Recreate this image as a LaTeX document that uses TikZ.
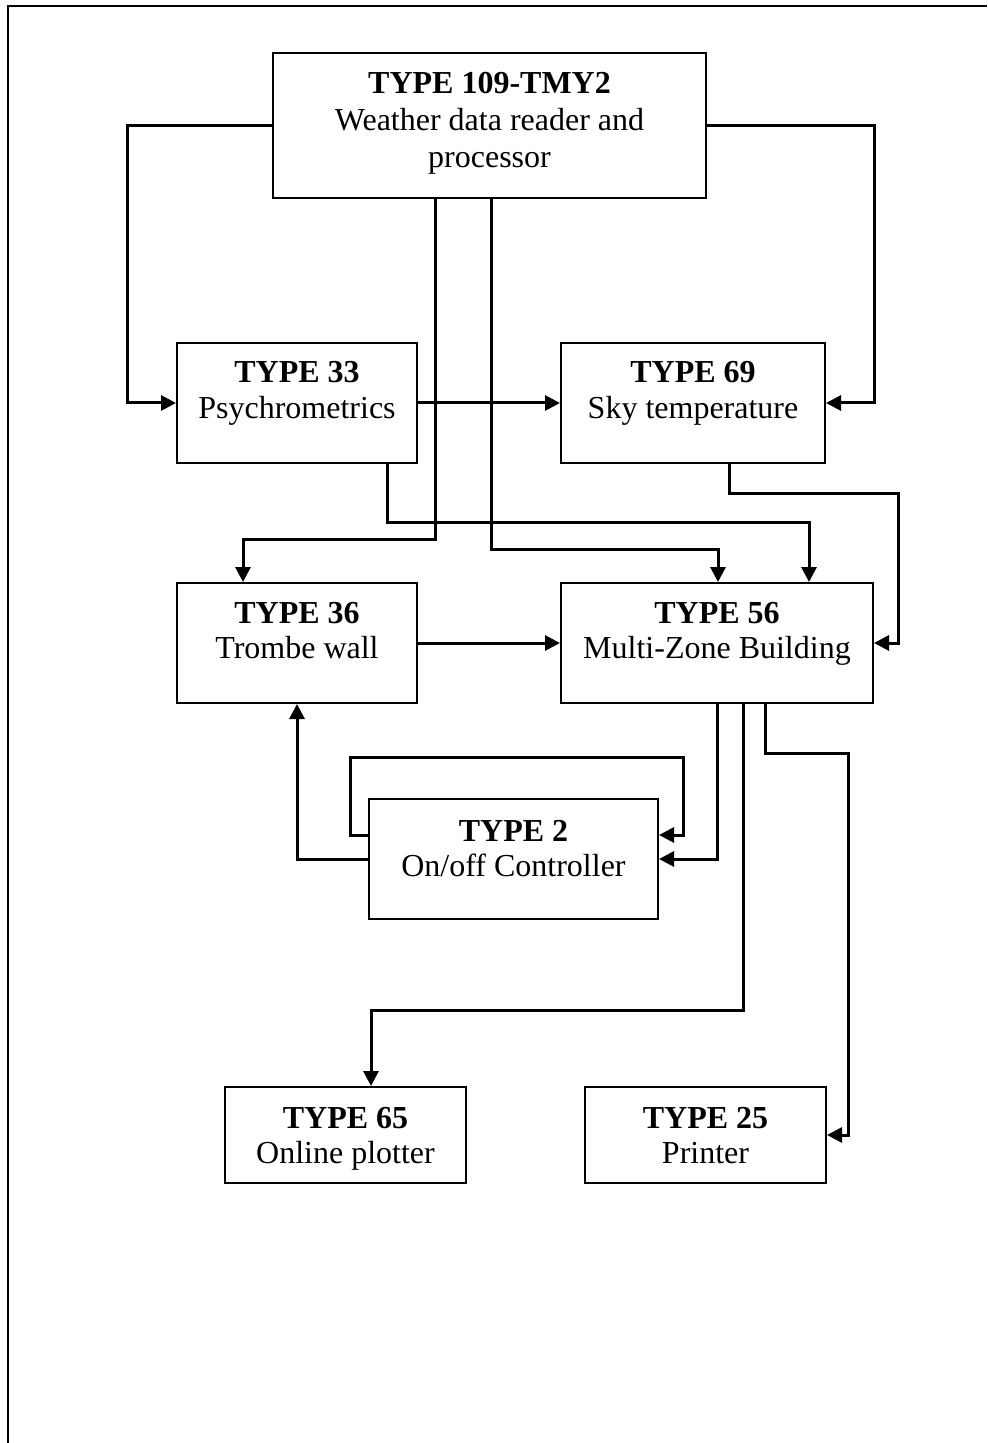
\documentclass[tikz,border=0pt]{standalone}
\usepackage{fontspec}
\setmainfont{Liberation Serif}
\usetikzlibrary{arrows.meta,calc}
\tikzset{
  blk/.style={draw,line width=1pt,rectangle,inner sep=0pt},
  lbl/.style={inner sep=0pt,anchor=base,align=center,font=\fontsize{16}{17.5}\selectfont},
  conn/.style={line width=1.5pt},
  arr/.style={line width=1.5pt,-{Triangle[length=7.5pt,width=7.5pt]}}
}
\begin{document}
\begin{tikzpicture}[x=0.5pt,y=-0.5pt]
\useasboundingbox (0,0) rectangle (987,1443);
\draw[line width=1pt] (8,1443) -- (8,6) -- (987,6);
% boxes
\node[blk,minimum width=216.5pt,minimum height=72.5pt] (b109) at (489.5,125.5) {};
\node[blk,minimum width=120pt,minimum height=60pt] (b33) at (297,403) {};
\node[blk,minimum width=132pt,minimum height=60pt] (b69) at (693,403) {};
\node[blk,minimum width=120pt,minimum height=60pt] (b36) at (297,643) {};
\node[blk,minimum width=156pt,minimum height=60pt] (b56) at (717,643) {};
\node[blk,minimum width=144.5pt,minimum height=60pt] (b2) at (513.5,859) {};
\node[blk,minimum width=120.5pt,minimum height=48pt] (b65) at (345.5,1135) {};
\node[blk,minimum width=120.5pt,minimum height=48pt] (b25) at (705.5,1135) {};
% labels (anchor base = last line baseline)
\node[lbl,font=\fontsize{16}{18.5}\selectfont] (t109) at (489.5,168) {\textbf{TYPE 109-TMY2}\\Weather data reader and\\processor};
\node[lbl] (t33) at (297,418) {\textbf{TYPE 33}\\Psychrometrics};
\node[lbl] (t69) at (693,418) {\textbf{TYPE 69}\\Sky temperature};
\node[lbl] (t36) at (297,658) {\textbf{TYPE 36}\\Trombe wall};
\node[lbl] (t56) at (717,658) {\textbf{TYPE 56}\\Multi-Zone Building};
\node[lbl] (t2) at (513.5,876) {\textbf{TYPE 2}\\On/off Controller};
\node[lbl] (t65) at (345.5,1163) {\textbf{TYPE 65}\\Online plotter};
\node[lbl] (t25) at (705.5,1163) {\textbf{TYPE 25}\\Printer};
% connectors
\draw[arr] (b109.west) -- ++(-145,0) |- (b33.west);
\draw[arr] (b109.east) -- ++(167,0) |- (b69.east);
\draw[arr] (b33.east) -- (b69.west);
\draw[arr] ($(b109.south)+(-54.5,0)$) |- ($(b36.north)+(-54,-43)$) -- ($(b36.north)+(-54,0)$);
\draw[arr] ($(b109.south)+(1.5,0)$) |- ($(b56.north)+(1,-33)$) -- ($(b56.north)+(1,0)$);
\draw[arr] ($(b33.south)+(90,0)$) |- ($(b56.north)+(92,-60)$) -- ($(b56.north)+(92,0)$);
\draw[arr] ($(b69.south)+(36,0)$) |- ($(b56.east)+(24,-150)$) -- ($(b56.east)+(24,0)$) -- (b56.east);
\draw[arr] (b36.east) -- (b56.west);
\draw[arr] (b2.west) -| (b36.south);
\draw[arr] ($(b2.west)+(0,-24)$) -- ++(-18,0) |- ($(b2.east)+(24,-102)$) -- ($(b2.east)+(24,-24)$) -- ($(b2.east)+(0,-24)$);
\draw[arr] (b56.south) |- (b2.east);
\draw[arr] ($(b56.south)+(26,0)$) |- ($(b65.north)+(25.5,-76)$) -- ($(b65.north)+(25.5,0)$);
\draw[arr] ($(b56.south)+(48,0)$) |- ($(b25.east)+(21,-382)$) -- ($(b25.east)+(21,0)$) -- (b25.east);
\end{tikzpicture}
\end{document}
